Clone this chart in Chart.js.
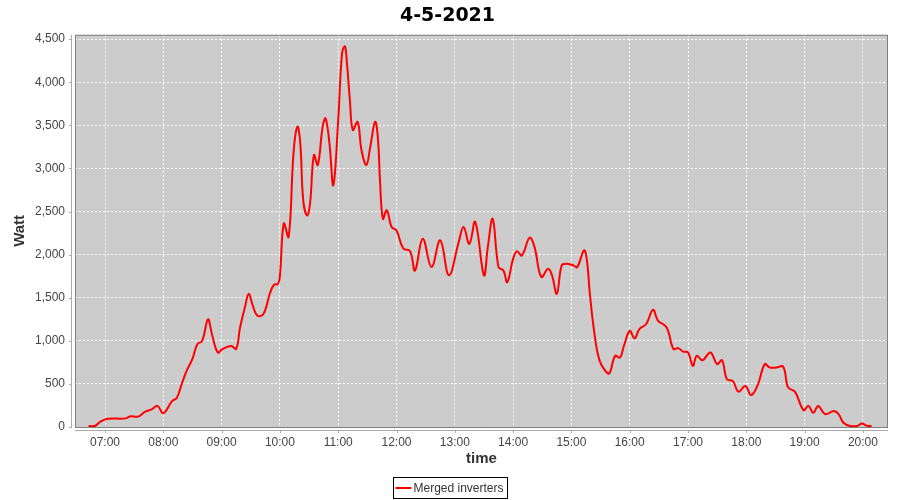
<!DOCTYPE html>
<html>
<head>
<meta charset="utf-8">
<script src="https://cdn.jsdelivr.net/npm/chart.js@4"></script>
<style>
  html, body { margin: 0; padding: 0; background: #ffffff; }
  #wrap { width: 900px; height: 500px; }
</style>
</head>
<body>
<div id="wrap"><canvas id="chart" width="900" height="500"></canvas></div>
<script>
/* values */
var chartTitle = "4-5-2021";
var seriesName = "Merged inverters";
var hourTicks = [7, 8, 9, 10, 11, 12, 13, 14, 15, 16, 17, 18, 19, 20];
var hourLabels = ["07:00", "08:00", "09:00", "10:00", "11:00", "12:00", "13:00",
                  "14:00", "15:00", "16:00", "17:00", "18:00", "19:00", "20:00"];
var wattTicks = [0, 500, 1000, 1500, 2000, 2500, 3000, 3500, 4000, 4500];

var times = ["06:43","06:50","06:55","07:03","07:21","07:26","07:34","07:41","07:48","07:54",
  "08:00","08:09","08:14","08:19","08:24","08:30","08:35","08:40","08:46","08:50","08:56",
  "09:01","09:10","09:15","09:19","09:24","09:28","09:32","09:37","09:43","09:50","09:54","09:58",
  "10:00","10:04","10:09","10:14","10:18","10:21","10:24","10:28","10:31","10:35","10:39","10:44","10:47","10:51","10:55",
  "11:00","11:04","11:07","11:09","11:12","11:15","11:20","11:24","11:29","11:33","11:38","11:41","11:43","11:46","11:50","11:55",
  "12:00","12:07","12:14","12:19","12:27","12:36","12:45","12:54",
  "13:04","13:09","13:15","13:21","13:30","13:34","13:39","13:45","13:50","13:54",
  "14:00","14:04","14:09","14:17","14:22","14:29","14:36","14:40","14:45","14:50","14:55",
  "15:02","15:06","15:13","15:16","15:19","15:24","15:29","15:35","15:39","15:45","15:50","15:54",
  "16:00","16:05","16:10","16:17","16:24","16:29","16:38","16:45","16:50","16:55",
  "17:00","17:05","17:09","17:15","17:23","17:30","17:35","17:40","17:46","17:52","17:59",
  "18:05","18:12","18:19","18:24","18:31","18:38","18:43","18:50","18:59",
  "19:04","19:09","19:14","19:21","19:30","19:35","19:40","19:47","19:54","19:59",
  "20:04","20:09"];

var watts = [10, 15, 60, 95, 100, 125, 120, 175, 205, 245,
  160, 300, 340, 500, 650, 790, 960, 1000, 1250, 1080, 865,
  905, 940, 905, 1155, 1390, 1545, 1410, 1290, 1310, 1560, 1650, 1660,
  1750, 2360, 2205, 3175, 3485, 3290, 2630, 2455, 2590, 3155, 3040, 3485, 3580, 3290, 2805,
  3560, 4340, 4415, 4220, 3795, 3445, 3540, 3210, 3040, 3250, 3540, 3330, 2860, 2415, 2515, 2320,
  2280, 2070, 2040, 1815, 2185, 1855, 2165, 1760,
  2145, 2320, 2125, 2380, 1760, 2090, 2415, 1855, 1815, 1680,
  1950, 2040, 1990, 2195, 2090, 1740, 1835, 1760, 1545, 1875, 1895,
  1875, 1855, 2050, 1930, 1545, 1060, 770, 650, 620, 825, 805, 940,
  1115, 1030, 1135, 1195, 1360, 1235, 1155, 905, 915, 875,
  865, 710, 825, 775, 865, 730, 775, 555, 535, 410, 475,
  370, 495, 730, 690, 690, 700, 460, 410, 195,
  245, 165, 245, 150, 185, 150, 50, 12, 12, 40,
  15, 10];

function toHours(s) {
    var p = s.split(":");
    return parseInt(p[0], 10) + parseInt(p[1], 10) / 60;
}

var points = [];
for (var i = 0; i < times.length; i++) {
    points.push({x: toHours(times[i]), y: watts[i]});
}

var tickFont = { family: '"Liberation Sans", Arial, sans-serif', size: 12 };
var axisTitleFont = { family: '"Liberation Sans", Arial, sans-serif', size: 15, weight: 'bold' };

/* grey plot box, offset axis lines and boxed legend like the original */
var plotFrame = {
    id: 'plotFrame',
    beforeDraw: function (chart) {
        var a = chart.chartArea, ctx = chart.ctx;
        ctx.save();
        ctx.fillStyle = '#cccccc';
        ctx.fillRect(a.left, a.top, a.right - a.left, a.bottom - a.top);
        ctx.restore();
    },
    afterDraw: function (chart) {
        var a = chart.chartArea, ctx = chart.ctx;
        ctx.save();
        ctx.strokeStyle = '#808080';
        ctx.lineWidth = 1;
        ctx.strokeRect(a.left + 0.5, a.top + 0.5, a.right - a.left - 1, a.bottom - a.top);

        // y axis line + ticks
        ctx.strokeStyle = '#aaaaaa';
        ctx.beginPath();
        ctx.moveTo(a.left - 3.5, a.top);
        ctx.lineTo(a.left - 3.5, a.bottom + 1);
        chart.scales.y.ticks.forEach(function (t) {
            var py = Math.round(chart.scales.y.getPixelForValue(t.value)) + 0.5;
            ctx.moveTo(a.left - 6, py);
            ctx.lineTo(a.left - 3.5, py);
        });
        // x axis line + ticks
        ctx.moveTo(a.left, a.bottom + 3.5);
        ctx.lineTo(a.right, a.bottom + 3.5);
        chart.scales.x.ticks.forEach(function (t) {
            var px = Math.round(chart.scales.x.getPixelForValue(t.value)) + 0.5;
            ctx.moveTo(px, a.bottom + 3.5);
            ctx.lineTo(px, a.bottom + 6);
        });
        ctx.stroke();

        // legend
        var ds = chart.data.datasets[0];
        ctx.font = '12px "Liberation Sans", Arial, sans-serif';
        var tw = ctx.measureText(ds.label).width;
        var bw = tw + 24, bh = 21;
        var bx = Math.round(450 - bw / 2) + 0.5, by = 477.5;
        ctx.strokeStyle = '#000000';
        ctx.strokeRect(bx, by, bw, bh);
        ctx.strokeStyle = ds.borderColor;
        ctx.lineWidth = 2;
        ctx.beginPath();
        ctx.moveTo(bx + 2, by + bh / 2);
        ctx.lineTo(bx + 18, by + bh / 2);
        ctx.stroke();
        ctx.fillStyle = '#333333';
        ctx.textBaseline = 'middle';
        ctx.fillText(ds.label, bx + 20, by + bh / 2 + 1);
        ctx.restore();
    }
};

var myChart = new Chart(document.getElementById('chart'), {
    type: 'line',
    data: {
        datasets: [{
            label: seriesName,
            data: points,
            borderColor: '#ff0000',
            backgroundColor: '#ff0000',
            borderWidth: 2,
            pointRadius: 0,
            tension: 0.4,
            fill: false
        }]
    },
    plugins: [plotFrame],
    options: {
        responsive: false,
        animation: false,
        layout: { padding: { left: 0, right: 5, top: 0, bottom: 32 } },
        plugins: {
            legend: { display: false },
            tooltip: { enabled: false },
            title: {
                display: true,
                text: chartTitle,
                color: '#000000',
                font: { family: '"DejaVu Sans"', size: 19, weight: 'bold' },
                padding: { top: 5, bottom: 7 }
            }
        },
        scales: {
            x: {
                type: 'linear',
                min: 6.4854,
                max: 20.4305,
                afterBuildTicks: function (scale) {
                    scale.ticks = hourTicks.map(function (h) { return {value: h}; });
                },
                afterFit: function (scale) { scale.height = 41; },
                ticks: {
                    autoSkip: false,
                    maxRotation: 0,
                    padding: 8,
                    color: '#444444',
                    font: tickFont,
                    callback: function (value) {
                        var i = hourTicks.indexOf(value);
                        return i >= 0 ? hourLabels[i] : '';
                    }
                },
                grid: {
                    color: '#ffffff',
                    lineWidth: 1,
                    drawTicks: false
                },
                border: { display: false, dash: [2, 2] },
                title: {
                    display: true,
                    text: 'time',
                    color: '#333333',
                    font: axisTitleFont,
                    padding: { top: 0, bottom: 0 }
                }
            },
            y: {
                min: 0,
                max: 4550,
                afterBuildTicks: function (scale) {
                    scale.ticks = wattTicks.map(function (v) { return {value: v}; });
                },
                afterFit: function (scale) { scale.width = 75; },
                ticks: {
                    padding: 10,
                    color: '#444444',
                    font: tickFont,
                    callback: function (value) { return value.toLocaleString('en-US'); }
                },
                grid: {
                    color: '#ffffff',
                    lineWidth: 1,
                    drawTicks: false
                },
                border: { display: false, dash: [2, 2] },
                title: {
                    display: true,
                    text: 'Watt',
                    color: '#333333',
                    font: axisTitleFont,
                    padding: { top: 11, bottom: 0 }
                }
            },
            // empty strip on the right so the plot ends where the original does
            gap: {
                position: 'right',
                display: true,
                afterFit: function (scale) { scale.width = 7; },
                ticks: { display: false },
                grid: { display: false, drawTicks: false },
                border: { display: false }
            }
        }
    }
});
</script>
</body>
</html>
